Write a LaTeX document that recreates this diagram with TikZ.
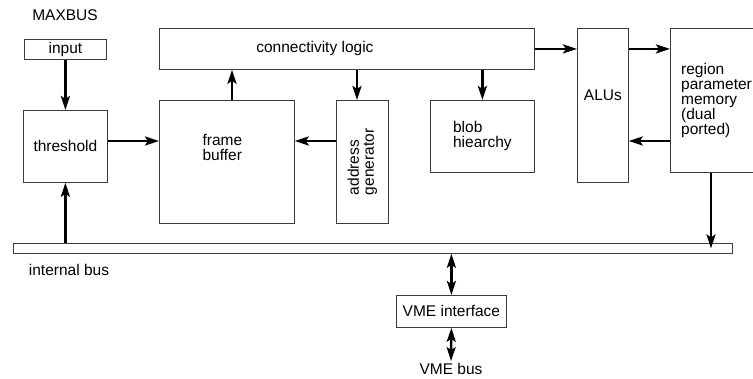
\documentclass[tikz,border=0pt]{standalone}
\usepackage{fontspec}
\setmainfont{Liberation Sans}
\usetikzlibrary{arrows.meta,positioning}
\definecolor{maxLine}{RGB}{60,60,60}

\begin{document}
\begin{tikzpicture}[
  x=1pt, y=-1pt,
  every node/.style={font=\fontsize{15.5}{15}\selectfont},
  box/.style={rectangle, draw=maxLine, line width=0.8pt,
              anchor=north west, inner sep=0pt},
  arr/.style={-{Stealth[length=14pt,width=9pt,inset=3pt]},
              line width=2.5pt, black},
  dblarr/.style={{Stealth[length=14pt,width=9pt,inset=3pt]}-{Stealth[length=14pt,width=9pt,inset=3pt]},
              line width=2.5pt, black}
]
  \useasboundingbox (0,0) rectangle (753,379);
  \node (maxbus) at (65,15) {MAXBUS};
  \node[box, minimum width=82pt, minimum height=20pt] (inp) at (24,39) {input};
  \node[box, minimum width=84pt, minimum height=72pt] (thr) at (23,110) {threshold};
  \node[box, minimum width=375pt, minimum height=41pt,
        label={[xshift=-32pt]center:connectivity logic}] (cl) at (159,28) {};
  \node[box, minimum width=135pt, minimum height=123pt,
        label={[xshift=-4.5pt,yshift=14.5pt,align=left]center:frame\\buffer}] (fb) at (159,100) {};
  \node[box, minimum width=52pt, minimum height=123pt,
        label={[rotate=90,align=left]center:address\\generator}] (ag) at (336,100) {};
  \node[box, minimum width=104pt, minimum height=72pt, align=left] (blob) at (430,100)
    {blob\\hiearchy};
  \node[box, minimum width=51pt, minimum height=154pt,
        label={[yshift=10pt]center:ALUs}] (alu) at (577,28) {};
  \node[box, minimum width=100pt, minimum height=144pt,
        label={[anchor=west,xshift=11pt,inner sep=0pt,align=left]west:region\\parameter\\memory\\(dual\\ported)}]
    (rpm) at (670,28) {};
  \node[box, minimum width=719pt, minimum height=10pt] (bus) at (13,243) {};
  \node (intbus) at (69,270) {internal bus};
  \node[box, minimum width=110pt, minimum height=32pt] (vme) at (396,295) {VME interface};
  \node[inner sep=2pt] (vmebus) at (451,369) {VME bus};

  \draw[arr] (inp) -- (thr);
  \draw[arr] (thr.east |- 0,141) -- (fb.west |- 0,141);
  \draw[arr] (fb.north -| 232,0) -- (cl.south -| 232,0);
  \draw[arr] (cl.south -| 357,0) -- (ag.north -| 357,0);
  \draw[arr] (ag.west |- 0,141) -- (fb.east |- 0,141);
  \draw[arr] (blob.north |- cl.south) -- (blob.north);
  \draw[arr] (cl.east) -- (cl.east -| alu.west);
  \draw[arr] (alu.east |- cl.east) -- (rpm.west |- cl.east);
  \draw[arr] (rpm.west |- 0,141) -- (alu.east |- 0,141);
  \draw[arr] (rpm.south -| 711,0) -- (bus.center -| 711,0);
  \draw[arr] (bus.north -| thr.south) -- (thr.south);
  \draw[dblarr] (bus.south -| vme.north) -- (vme.north);
  \draw[dblarr] (vme.south) -- (vmebus.north);
\end{tikzpicture}
\end{document}
